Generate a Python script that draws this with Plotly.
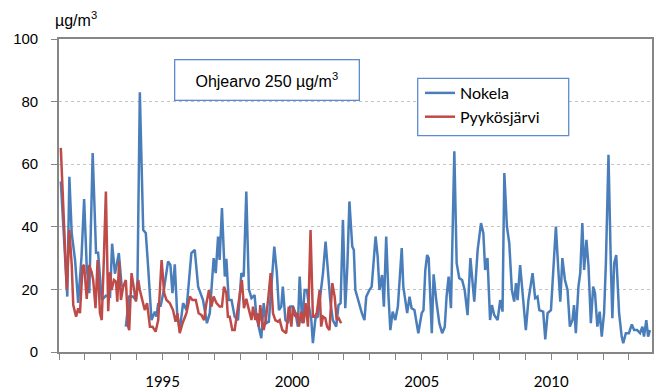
import plotly.graph_objects as go

# ---- data ----
nokela_year = [
    1991.07, 1991.32, 1991.40, 1991.49, 1991.62, 1991.74, 1991.87, 1991.97,
    1992.07, 1992.17, 1992.30, 1992.43, 1992.51, 1992.65, 1992.81, 1992.97,
    1993.05, 1993.16, 1993.31, 1993.42, 1993.50,
    1993.58, 1993.71, 1993.86, 1993.97, 1994.03, 1994.12, 1994.25, 1994.35,
    1994.44, 1994.57, 1994.70, 1994.76, 1994.83, 1994.92, 1995.05, 1995.21,
    1995.30, 1995.38, 1995.47, 1995.56, 1995.66, 1995.79, 1995.92, 1996.11,
    1996.24, 1996.37, 1996.56, 1996.71, 1996.82, 1996.97, 1997.05, 1997.14,
    1997.20, 1997.29, 1997.40, 1997.46, 1997.55, 1997.66, 1997.78, 1997.91,
    1998.04, 1998.13, 1998.23, 1998.33, 1998.43, 1998.55, 1998.62, 1998.72,
    1998.81, 1998.90, 1999.00, 1999.10, 1999.22, 1999.31, 1999.41, 1999.49,
    1999.58, 1999.64, 1999.74, 1999.84, 1999.93, 2000.03, 2000.13, 2000.22,
    2000.29, 2000.39, 2000.48, 2000.57, 2000.65, 2000.74, 2000.80, 2000.90,
    2000.99, 2001.08, 2001.19, 2001.29, 2001.38, 2001.47, 2001.57, 2001.70,
    2001.79, 2001.87, 2001.96, 2002.05, 2002.13, 2002.21, 2002.32, 2002.38,
    2002.44, 2002.57, 2002.69, 2002.79, 2002.86, 2002.98, 2003.07, 2003.22,
    2003.30, 2003.37, 2003.47, 2003.54, 2003.63, 2003.72, 2003.79, 2003.88,
    2003.98, 2004.08, 2004.23, 2004.29, 2004.44, 2004.53, 2004.61, 2004.72,
    2004.87, 2005.00, 2005.07, 2005.14, 2005.21, 2005.27, 2005.39, 2005.46,
    2005.56, 2005.68, 2005.79, 2005.89, 2005.96, 2006.04, 2006.13, 2006.26,
    2006.35, 2006.45, 2006.56, 2006.66, 2006.77, 2006.88, 2007.03, 2007.16,
    2007.29, 2007.38, 2007.45, 2007.54, 2007.64, 2007.71, 2007.80, 2007.93,
    2008.03, 2008.12, 2008.19, 2008.29, 2008.38, 2008.48, 2008.57, 2008.64,
    2008.70, 2008.80, 2008.89, 2009.02, 2009.12, 2009.28, 2009.38, 2009.47,
    2009.54, 2009.69, 2009.77, 2009.86, 2009.99, 2010.18, 2010.27, 2010.35,
    2010.43, 2010.53, 2010.63, 2010.72, 2010.82, 2010.88, 2010.95, 2011.05,
    2011.12, 2011.20, 2011.27, 2011.36, 2011.44, 2011.53, 2011.62, 2011.69,
    2011.78, 2011.87, 2011.95, 2012.04, 2012.11, 2012.21, 2012.30, 2012.36,
    2012.43, 2012.51, 2012.62, 2012.72, 2012.78, 2012.88, 2013.00, 2013.11,
    2013.20, 2013.32, 2013.43, 2013.52, 2013.58, 2013.67, 2013.74, 2013.81,
]
nokela_value = [
    54.5, 17.7, 56.0, 38.0, 29.4, 15.7, 30.5, 48.9,
    27.3, 18.8, 63.6, 31.7, 31.7, 16.6, 18.0, 17.7,
    34.6, 25.0, 31.6, 20.9, None,
    8.1, 17.7, 17.7, 16.6, 23.0, 83.0, 39.0, 38.0,
    27.3, 10.2, 12.9, 11.3, 15.6, 14.5, 20.0, 28.9,
    27.8, 18.8, 28.0, 12.4, 7.0, 15.6, 13.4, 31.6,
    32.6, 20.9, 16.6, 9.2, 12.4, 30.0, 25.2, 36.9,
    29.4, 46.0, 24.1, 29.8, 16.6, 16.6, 11.3, 10.2,
    25.2, 24.1, 51.3, 20.0, 17.2, 18.2, 11.3, 7.0,
    4.4, 15.6, 9.2, 9.7, 23.0, 33.7, 25.2, 13.4,
    14.5, 20.9, 10.2, 9.2, 14.5, 14.5, 12.4, 8.1,
    24.1, 9.2, 19.8, 19.8, 14.5, 10.2, 2.8, 10.8,
    11.3, 17.7, 25.2, 35.3, 26.2, 16.6, 10.2, 8.1,
    15.0, 15.6, 42.2, 14.0, 27.3, 48.1, 33.7, 32.6,
    19.8, 15.6, 12.4, 10.2, 17.7, 19.8, 20.9, 36.9,
    30.5, 19.8, 24.6, 14.5, 36.9, 17.7, 7.0, 12.9,
    10.2, 14.5, 33.2, 20.9, 12.4, 17.7, 14.0, 13.4,
    6.0, 12.4, 13.4, 26.2, 31.0, 30.0, 6.0, 24.8,
    16.6, 9.2, 6.0, 8.0, 17.7, 24.1, 14.0, 64.1,
    28.4, 23.6, 23.0, 19.8, 11.8, 30.0, 16.1, 32.6,
    41.2, 38.0, 26.2, 30.0, 10.2, 15.0, 11.8, 10.2,
    16.6, 12.9, 57.2, 40.1, 34.8, 19.8, 16.1, 22.0,
    16.6, 27.8, 18.8, 7.0, 16.6, 25.2, 17.2, 17.7,
    13.4, 12.9, 4.0, 12.4, 13.4, 40.1, 26.8, 16.1,
    30.0, 23.0, 19.8, 8.1, 10.2, 15.0, 6.0, 20.9,
    25.2, 41.2, 26.2, 35.8, 27.3, 9.2, 20.9, 18.8,
    8.1, 12.9, 4.9, 12.4, 28.4, 63.0, 28.4, 10.8,
    28.4, 31.0, 12.4, 4.9, 2.8, 6.0, 6.0, 8.8,
    7.0, 7.0, 6.0, 8.1, 4.9, 10.2, 4.9, 7.0,
]

pyyko_year = [
    1991.07, 1991.30, 1991.40, 1991.49, 1991.55, 1991.66, 1991.74, 1991.81,
    1991.91, 1991.97, 1992.07, 1992.16, 1992.26, 1992.32, 1992.41, 1992.49,
    1992.58, 1992.65, 1992.73, 1992.81, 1992.90, 1992.97, 1993.03, 1993.12,
    1993.20, 1993.25, 1993.32, 1993.39, 1993.48, 1993.58, 1993.67, 1993.71,
    1993.80, 1993.90, 1993.97, 1994.06, 1994.12, 1994.23, 1994.31, 1994.40,
    1994.51, 1994.61, 1994.73, 1994.83, 1994.96, 1995.06, 1995.15, 1995.28,
    1995.40, 1995.50, 1995.57, 1995.66, 1995.77, 1995.92, 1996.05, 1996.15,
    1996.28, 1996.39, 1996.50, 1996.60, 1996.69, 1996.79, 1996.88, 1996.97,
    1997.08, 1997.20, 1997.29, 1997.37, 1997.46, 1997.52, 1997.59, 1997.69,
    1997.78, 1997.91, 1998.06, 1998.14, 1998.23, 1998.30, 1998.43, 1998.49,
    1998.58, 1998.64, 1998.71, 1998.77, 1998.83, 1998.90, 1998.98, 1999.07,
    1999.17, 1999.26, 1999.35, 1999.45, 1999.52, 1999.62, 1999.71, 1999.77,
    1999.87, 1999.97, 2000.03, 2000.12, 2000.20, 2000.26, 2000.35, 2000.44,
    2000.52, 2000.61, 2000.71, 2000.80, 2000.87, 2000.95, 2001.06, 2001.12,
    2001.19, 2001.28, 2001.35, 2001.44, 2001.55, 2001.64, 2001.72, 2001.80,
    2001.89,
]
pyyko_value = [
    65.2, 20.0, 39.0, 28.0, 15.0, 11.3, 14.0, 12.4,
    27.3, 27.8, 17.0, 27.8, 25.5, 23.0, 14.0, 29.4,
    12.5, 10.2, 29.4, 51.3, 13.0, 25.5, 19.8, 23.0,
    22.5, 16.1, 28.9, 16.6, 20.9, 23.0, 8.1, 7.0,
    25.2, 20.4, 16.1, 23.0, 19.8, 16.1, 13.4, 15.6,
    8.1, 8.1, 6.5, 10.2, 29.4, 18.8, 16.6, 15.6,
    13.4, 9.7, 12.4, 6.0, 9.2, 12.4, 17.7, 16.6,
    16.6, 12.4, 11.8, 10.2, 15.6, 19.8, 14.5, 17.7,
    15.6, 14.5, 14.5, 20.9, 18.8, 11.3, 11.3, 7.0,
    7.0, 14.5, 23.0, 14.0, 17.0, 14.5, 10.2, 14.5,
    10.2, 12.4, 8.1, 15.0, 10.2, 7.0, 10.2, 16.6,
    25.2, 12.4, 10.2, 9.7, 10.2, 7.0, 6.5, 6.0,
    14.5, 8.1, 14.5, 11.3, 12.4, 8.1, 12.9, 9.2,
    15.6, 8.1, 39.0, 11.3, 11.3, 12.4, 19.8, 8.1,
    11.3, 10.8, 8.1, 7.0, 22.0, 17.7, 10.2, 10.8,
    9.2,
]

series_names = ["Nokela", "Pyykösjärvi"]
series_colors = ["#4a7ebb", "#be4b48"]
x_range = [1991.0, 2013.89]
y_range = [0, 100]
unit_label = "µg/m<sup>3</sup>"
guide_label = "Ohjearvo 250 µg/m<sup>3</sup>"

W, H = 656, 392
L, R, T, B = 59, 4, 39, 40
PW, PH = W - L - R, H - T - B


def px(xp):
    return (xp - L) / PW


def py(yp):
    return (H - B - yp) / PH


fig = go.Figure()
fig.add_trace(go.Scatter(
    x=nokela_year, y=nokela_value, mode="lines", name=series_names[0],
    line=dict(color=series_colors[0], width=2.5), legendgroup="a",
))
fig.add_trace(go.Scatter(
    x=pyyko_year, y=pyyko_value, mode="lines", name=series_names[1],
    line=dict(color=series_colors[1], width=2.5), legendgroup="b",
))

axis_col = "#868686"
fig.update_layout(
    width=W, height=H,
    margin=dict(l=L, r=R, t=T, b=B, pad=0, autoexpand=False),
    paper_bgcolor="white", plot_bgcolor="white",
    font=dict(family="Liberation Sans, Arial", size=15, color="black"),
    showlegend=True,
    legend=dict(
        x=px(420), y=py(76), xanchor="left", yanchor="top",
        bgcolor="rgba(0,0,0,0)", borderwidth=0,
        font=dict(family="Lato", size=16, color="black"),
        traceorder="normal", tracegroupgap=7,
    ),
    xaxis=dict(
        range=x_range, tickmode="linear", tick0=1995, dtick=5,
        ticks="outside", ticklen=6, tickwidth=1.3, tickcolor=axis_col,
        minor=dict(tick0=1991, dtick=1, ticks="outside", ticklen=6,
                   tickwidth=1.3, tickcolor=axis_col, showgrid=False),
        showgrid=False, zeroline=False, automargin=False,
        showline=True, linecolor=axis_col, linewidth=1.6, mirror=True,
        tickfont=dict(family="Lato", size=15, color="black"),
        ticklabelstandoff=9,
    ),
    yaxis=dict(
        range=y_range, tickmode="linear", tick0=0, dtick=20,
        ticks="outside", ticklen=6, tickwidth=1.3, tickcolor=axis_col,
        showgrid=True, gridcolor="#c4c4c4", gridwidth=1.3, griddash="dot",
        zeroline=False, automargin=False,
        showline=True, linecolor=axis_col, linewidth=1.6, mirror=True,
        tickfont=dict(family="Liberation Sans, Arial", size=15, color="black"),
        ticklabelstandoff=10,
    ),
    shapes=[
        dict(type="rect", xref="paper", yref="paper",
             x0=px(417.7), x1=px(568.7), y0=py(135.7), y1=py(78.3),
             line=dict(color="#5b8bd0", width=1.3), fillcolor="white",
             layer="above"),
    ],
    annotations=[
        dict(text=unit_label, xref="paper", yref="paper",
             x=px(53), y=py(19), xanchor="left", yanchor="middle",
             showarrow=False,
             font=dict(family="Liberation Sans, Arial", size=16, color="black")),
        dict(text=guide_label, xref="paper", yref="paper",
             x=px(266.5), y=py(80), xanchor="center", yanchor="middle",
             showarrow=False, width=183, height=39,
             bordercolor="#5b8bd0", borderwidth=1.3, borderpad=0,
             bgcolor="white",
             font=dict(family="Liberation Sans, Arial", size=16, color="black")),
    ],
)

fig.write_html("out.html")
